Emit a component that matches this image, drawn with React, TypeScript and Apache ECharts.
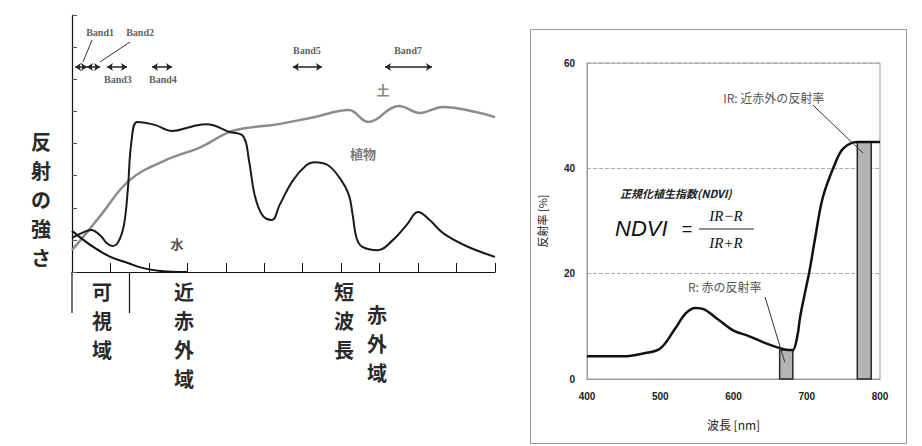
import React, { useEffect, useRef } from "react";
import * as echarts from "echarts";

// ---------- Left panel (schematic spectral reflectance) ----------
const vegX = [0.4, 0.45, 0.5, 0.55, 0.58, 0.61, 0.64, 0.67, 0.69, 0.71, 0.74, 0.83, 0.92, 1.03, 1.1, 1.22, 1.29, 1.32, 1.35, 1.39, 1.44, 1.48, 1.55, 1.62, 1.66, 1.73, 1.8, 1.84, 1.86, 1.88, 1.91, 1.99, 2.07, 2.14, 2.2, 2.26, 2.33, 2.45, 2.6];
const vegY = [1.06, 1.21, 1.31, 1.12, 0.9, 0.81, 0.93, 1.46, 2.55, 4.1, 4.67, 4.58, 4.39, 4.54, 4.6, 4.36, 4.23, 3.49, 2.4, 1.77, 1.62, 2.09, 2.86, 3.33, 3.42, 3.33, 2.86, 2.4, 1.77, 1.06, 0.78, 0.68, 1.0, 1.46, 1.87, 1.62, 1.21, 0.81, 0.47];

const soilX = [0.4, 0.48, 0.55, 0.7, 0.89, 1.07, 1.22, 1.34, 1.45, 1.66, 1.84, 1.94, 2.1, 2.21, 2.33, 2.5, 2.6];
const soilY = [0.68, 1.25, 1.77, 2.86, 3.49, 3.89, 4.36, 4.51, 4.58, 4.82, 5.04, 4.67, 5.17, 4.95, 5.14, 4.98, 4.82];

const waterX = [0.4, 0.51, 0.6, 0.69, 0.77, 0.86, 1.0];
const waterY = [1.28, 0.78, 0.47, 0.28, 0.12, 0.03, 0.0];

const bandNames = ["Band1", "Band2", "Band3", "Band4", "Band5", "Band7"];
const bandStart = [0.416, 0.478, 0.582, 0.816, 1.549, 2.028];
const bandEnd = [0.478, 0.546, 0.686, 0.92, 1.7, 2.272];
const bandLevel = 6.38;
const bandLabelX = [0.546, 0.754, 0.639, 0.873, 1.622, 2.148];
const bandLabelY = [7.44, 7.44, 5.98, 5.98, 6.91, 6.91];
const leaderFrom = [[0.504, 7.22], [0.702, 7.16]];
const leaderTo = [[0.457, 6.54], [0.546, 6.54]];

const materialNames = ["土", "植物", "水"];
const materialX = [2.018, 1.913, 0.946];
const materialY = [5.67, 3.7, 0.9];
const materialColors = ["#666", "#555", "#222"];

// ---------- Right panel (vegetation reflectance & NDVI) ----------
const wavelength = [400, 450, 475, 500, 520, 535, 548, 560, 580, 600, 620, 640, 660, 675, 681, 687, 691, 697, 704, 711, 722, 739, 750, 769, 785, 800];
const reflectance = [4.3, 4.3, 4.8, 5.8, 9.5, 12.5, 13.5, 13.2, 11.2, 9.2, 8.2, 7.0, 6.0, 5.5, 5.5, 8.0, 11.8, 16.0, 20.7, 26.4, 34.5, 41.0, 43.8, 45.0, 45.0, 45.0];
const bandRanges = [[663, 681, 5.5], [769, 788, 45]];
const annoNames = ["R: 赤の反射率", "IR: 近赤外の反射率"];
const annoLabelPos = [[588, 17.5], [655, 53.4]];
const annoFrom = [[643, 15.6], [708.5, 52.0]];
const annoTo = [[670, 3.2], [776.8, 42.9]];

const CJK = "'Noto Sans CJK JP', sans-serif";

function vText(chars: string, x: number, y: number, size: number, step: number) {
  return chars.split("").map((c, i) => ({
    type: "text",
    x,
    y: y + i * step,
    style: {
      text: c,
      fontSize: size,
      fontWeight: "bold",
      lineHeight: step - 1,
      fontFamily: CJK,
      fill: "#2a2a2a",
      textAlign: "center",
      align: "center",
      textVerticalAlign: "top",
      verticalAlign: "top",
    },
  }));
}

export default function App() {
  const ref = useRef<HTMLDivElement>(null);
  useEffect(() => {
    if (!ref.current) return;
    const chart = echarts.init(ref.current, null, { renderer: "svg" });
    const option: any = {
      animation: false,
      backgroundColor: "#fff",
      grid: [
        { left: 72, top: 15, width: 423, height: 257 },
        { left: 587, top: 63, right: 42, bottom: 67, show: true, borderColor: "#999", borderWidth: 1 },
      ],
      xAxis: [
        {
          gridIndex: 0,
          type: "value",
          min: 0.4,
          max: 2.6,
          interval: 0.2,
          axisLine: { show: true, lineStyle: { color: "#111", width: 1.2 } },
          axisTick: { show: true, inside: true, length: 9, lineStyle: { color: "#111" } },
          axisLabel: { show: false },
          splitLine: { show: false },
        },
        {
          gridIndex: 1,
          type: "value",
          min: 400,
          max: 800,
          interval: 100,
          axisLine: { show: true, lineStyle: { color: "#999" } },
          axisTick: { show: false },
          axisLabel: { fontSize: 10, fontWeight: "bold", color: "#222", margin: 12, fontFamily: "'Liberation Sans', sans-serif" },
          splitLine: { show: false },
          name: "波長 [nm]",
          nameLocation: "middle",
          nameGap: 39,
          nameTextStyle: { fontSize: 12, color: "#222", fontFamily: CJK },
        },
      ],
      yAxis: [
        {
          gridIndex: 0,
          type: "value",
          min: 0,
          max: 8,
          interval: 1,
          axisLine: { show: true, lineStyle: { color: "#111", width: 1.2 } },
          axisTick: { show: true, inside: true, length: 5, lineStyle: { color: "#555" } },
          axisLabel: { show: false },
          splitLine: { show: false },
        },
        {
          gridIndex: 1,
          type: "value",
          min: 0,
          max: 60,
          interval: 20,
          axisLine: { show: true, lineStyle: { color: "#999" } },
          axisTick: { show: false },
          axisLabel: { fontSize: 10, fontWeight: "bold", color: "#222", margin: 12, fontFamily: "'Liberation Sans', sans-serif" },
          splitLine: { show: true, lineStyle: { color: "#aaa", type: "dashed" } },
          name: "反射率 [%]",
          nameLocation: "middle",
          nameRotate: 90,
          nameGap: 40,
          nameTextStyle: { fontSize: 11, color: "#222", fontFamily: CJK },
        },
      ],
      series: [
        {
          type: "line",
          xAxisIndex: 0,
          yAxisIndex: 0,
          data: soilX.map((x, i) => [x, soilY[i]]),
          smooth: 0.4,
          symbol: "none",
          lineStyle: { color: "#8c8c8c", width: 2.5 },
        },
        {
          type: "line",
          xAxisIndex: 0,
          yAxisIndex: 0,
          data: vegX.map((x, i) => [x, vegY[i]]),
          smooth: 0.4,
          symbol: "none",
          lineStyle: { color: "#1a1a1a", width: 2 },
        },
        {
          type: "line",
          xAxisIndex: 0,
          yAxisIndex: 0,
          data: waterX.map((x, i) => [x, waterY[i]]),
          smooth: 0.4,
          symbol: "none",
          lineStyle: { color: "#111", width: 2 },
        },
        {
          type: "lines",
          coordinateSystem: "cartesian2d",
          xAxisIndex: 0,
          yAxisIndex: 0,
          symbol: ["arrow", "arrow"],
          symbolSize: 6,
          lineStyle: { color: "#222", width: 1.5, opacity: 1 },
          data: bandStart.map((s, i) => ({ coords: [[s, bandLevel], [bandEnd[i], bandLevel]] })),
        },
        {
          type: "lines",
          coordinateSystem: "cartesian2d",
          xAxisIndex: 0,
          yAxisIndex: 0,
          symbol: "none",
          lineStyle: { color: "#333", width: 1, opacity: 1 },
          data: leaderFrom.map((f, i) => ({ coords: [f, leaderTo[i]] })),
        },
        {
          type: "scatter",
          xAxisIndex: 0,
          yAxisIndex: 0,
          symbolSize: 0,
          data: bandNames.map((n, i) => ({ name: n, value: [bandLabelX[i], bandLabelY[i]] })),
          label: {
            show: true,
            position: "inside",
            formatter: (p: any) => p.name,
            fontSize: 10,
            fontWeight: "bold",
            color: "#333",
            fontFamily: "'Liberation Serif', serif",
          },
        },
        {
          type: "scatter",
          xAxisIndex: 0,
          yAxisIndex: 0,
          symbolSize: 0,
          data: materialNames.map((n, i) => ({
            name: n,
            value: [materialX[i], materialY[i]],
            label: { color: materialColors[i] },
          })),
          label: {
            show: true,
            position: "inside",
            formatter: (p: any) => p.name,
            fontSize: 13,
            fontWeight: "bold",
            fontFamily: CJK,
          },
        },
        // Right panel
        {
          type: "custom",
          xAxisIndex: 1,
          yAxisIndex: 1,
          data: bandRanges,
          encode: { x: [0, 1], y: 2 },
          renderItem: (params: any, api: any) => {
            const p0 = api.coord([api.value(0), api.value(2)]);
            const p1 = api.coord([api.value(1), 0]);
            return {
              type: "rect",
              shape: { x: p0[0], y: p0[1], width: p1[0] - p0[0], height: p1[1] - p0[1] },
              style: { fill: "#b4b4b4", stroke: "#2a2a2a", lineWidth: 1.5 },
            };
          },
          z: 1,
        },
        {
          type: "line",
          xAxisIndex: 1,
          yAxisIndex: 1,
          data: wavelength.map((w, i) => [w, reflectance[i]]),
          smooth: 0.35,
          symbol: "none",
          lineStyle: { color: "#111", width: 2.5 },
          z: 3,
        },
        {
          type: "lines",
          coordinateSystem: "cartesian2d",
          xAxisIndex: 1,
          yAxisIndex: 1,
          symbol: "none",
          lineStyle: { color: "#333", width: 1, opacity: 1 },
          data: annoFrom.map((f, i) => ({ coords: [f, annoTo[i]] })),
          z: 4,
        },
        {
          type: "scatter",
          xAxisIndex: 1,
          yAxisIndex: 1,
          symbolSize: 0,
          data: annoNames.map((n, i) => ({ name: n, value: annoLabelPos[i] })),
          label: {
            show: true,
            position: "inside",
            formatter: (p: any) => p.name,
            fontSize: 12,
            color: "#222",
            fontFamily: CJK,
          },
        },
      ],
      graphic: [
        { type: "rect", shape: { x: 530.5, y: 29.5, width: 376, height: 414 }, style: { fill: "none", stroke: "#999", lineWidth: 1 }, z: -1 },
        { type: "line", shape: { x1: 72, y1: 272, x2: 72, y2: 313 }, style: { stroke: "#111", lineWidth: 1.2 } },
        { type: "line", shape: { x1: 129.5, y1: 272, x2: 129.5, y2: 313 }, style: { stroke: "#111", lineWidth: 1.2 } },
        ...vText("反射の強さ", 41, 127, 20, 29),
        ...vText("可視域", 102, 277, 20, 29),
        ...vText("近赤外域", 184, 277, 20, 29),
        ...vText("短波長", 344, 277, 20, 29),
        ...vText("赤外域", 377, 300, 20, 29),
        {
          type: "text",
          x: 620,
          y: 193,
          style: { text: "正規化植生指数(NDVI)", fontSize: 11, fontStyle: "italic", fontWeight: "bold", fontFamily: CJK, fill: "#222", textVerticalAlign: "middle", verticalAlign: "middle" },
        },
        {
          type: "text",
          x: 615,
          y: 228,
          style: { text: "NDVI", fontSize: 22, fontStyle: "italic", fontFamily: "'Liberation Sans', sans-serif", fill: "#111", textVerticalAlign: "middle", verticalAlign: "middle" },
        },
        {
          type: "text",
          x: 687,
          y: 229,
          style: { text: "=", fontSize: 18, fontFamily: "'Liberation Sans', sans-serif", fill: "#111", textAlign: "center", align: "center", textVerticalAlign: "middle", verticalAlign: "middle" },
        },
        {
          type: "text",
          x: 726,
          y: 216,
          style: { text: "IR−R", fontSize: 15, fontStyle: "italic", fontFamily: "'Liberation Serif', serif", fill: "#111", textAlign: "center", align: "center", textVerticalAlign: "middle", verticalAlign: "middle" },
        },
        { type: "line", shape: { x1: 699, y1: 229, x2: 754, y2: 229 }, style: { stroke: "#222", lineWidth: 1.2 } },
        {
          type: "text",
          x: 726,
          y: 243,
          style: { text: "IR+R", fontSize: 15, fontStyle: "italic", fontFamily: "'Liberation Serif', serif", fill: "#111", textAlign: "center", align: "center", textVerticalAlign: "middle", verticalAlign: "middle" },
        },
      ],
    };
    chart.setOption(option);
    return () => chart.dispose();
  }, []);
  return <div ref={ref} style={{ width: 922, height: 446, position: "absolute", left: 0, top: 0 }} />;
}
